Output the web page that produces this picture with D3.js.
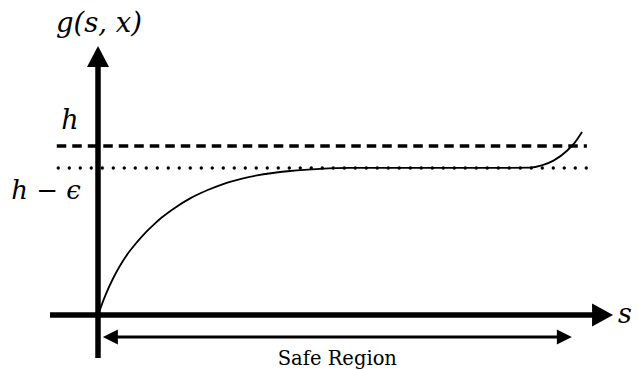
<!DOCTYPE html>
<html>
<head>
<meta charset="utf-8">
<script src="https://cdn.jsdelivr.net/npm/d3@7"></script>
<style>
  html, body { margin: 0; padding: 0; background: #fff; }
  svg { display: block; }
</style>
</head>
<body>
<svg id="chart" width="639" height="370"></svg>
<script>
// ---- data ----
const curveS = [0, 0.015, 0.030, 0.045, 0.062, 0.080, 0.097, 0.115, 0.132, 0.159, 0.190, 0.225, 0.258, 0.295, 0.328, 0.396, 0.458, 0.52, 0.65, 0.80, 0.891, 0.915, 0.940, 0.967, 0.983, 0.998];
const curveG = [0, 0.115, 0.210, 0.290, 0.365, 0.430, 0.485, 0.535, 0.578, 0.635, 0.690, 0.738, 0.775, 0.805, 0.826, 0.852, 0.865, 0.870, 0.870, 0.870, 0.872, 0.885, 0.915, 0.972, 1.020, 1.083];
const hLevel = 1.0;
const hEpsLevel = 0.87;
const xAxisExtent = [-0.099, 1.062];
const yAxisExtent = [-0.254, 1.592];
const refLineExtent = [-0.085, 1.008];
const dotLineExtent = [-0.085, 1.014];
const safeExtent = [0.010, 0.977];
const yLabel = "g(s, x)";
const xLabel = "s";
const hLabel = "h";
const hEpsLabel = "h \u2212 \u03F5";
const safeLabel = "Safe Region";

// ---- scales ----
const x = d3.scaleLinear().domain([0, 1]).range([98, 583]);
const y = d3.scaleLinear().domain([0, 1]).range([315, 146]);

const SERIF = "'DejaVu Serif', 'Liberation Serif', serif";
const svg = d3.select("#chart");

// dashed h line
svg.append("line")
  .attr("x1", x(refLineExtent[0])).attr("x2", x(refLineExtent[1]))
  .attr("y1", y(hLevel)).attr("y2", y(hLevel))
  .attr("stroke", "#000").attr("stroke-width", 3.4)
  .attr("stroke-dasharray", "9.5 6");

// dotted h-eps line
svg.append("line")
  .attr("x1", x(dotLineExtent[0]) + 1.5).attr("x2", x(dotLineExtent[1]))
  .attr("y1", y(hEpsLevel)).attr("y2", y(hEpsLevel))
  .attr("stroke", "#000").attr("stroke-width", 3.4)
  .attr("stroke-linecap", "round")
  .attr("stroke-dasharray", "0 11");

// curve
const pts = curveS.map((s, i) => [s, curveG[i]]);
svg.append("path")
  .datum(pts)
  .attr("fill", "none").attr("stroke", "#000").attr("stroke-width", 1.8)
  .attr("d", d3.line().x(d => x(d[0])).y(d => y(d[1])).curve(d3.curveMonotoneX));

// axes
const ax = svg.append("g");
ax.append("line")
  .attr("x1", x(xAxisExtent[0])).attr("x2", x(xAxisExtent[1]) - 18)
  .attr("y1", y(0)).attr("y2", y(0))
  .attr("stroke", "#000").attr("stroke-width", 5.5);
ax.append("path")
  .attr("d", `M${x(xAxisExtent[1])},${y(0)} L${x(xAxisExtent[1]) - 21},${y(0) - 11.5} L${x(xAxisExtent[1]) - 21},${y(0) + 11.5} Z`)
  .attr("fill", "#000");
ax.append("line")
  .attr("x1", x(0)).attr("x2", x(0))
  .attr("y1", y(yAxisExtent[0])).attr("y2", y(yAxisExtent[1]) + 18)
  .attr("stroke", "#000").attr("stroke-width", 5.5);
ax.append("path")
  .attr("d", `M${x(0)},${y(yAxisExtent[1])} L${x(0) - 11},${y(yAxisExtent[1]) + 21} L${x(0) + 11},${y(yAxisExtent[1]) + 21} Z`)
  .attr("fill", "#000");

// safe region double arrow
const sy = y(0) + 22;
const sx0 = x(safeExtent[0]), sx1 = x(safeExtent[1]);
svg.append("line")
  .attr("x1", sx0 + 10).attr("x2", sx1 - 10)
  .attr("y1", sy).attr("y2", sy)
  .attr("stroke", "#000").attr("stroke-width", 3.2);
svg.append("path")
  .attr("d", `M${sx0},${sy} L${sx0 + 15},${sy - 7.5} L${sx0 + 15},${sy + 7.5} Z`)
  .attr("fill", "#000");
svg.append("path")
  .attr("d", `M${sx1},${sy} L${sx1 - 15},${sy - 7.5} L${sx1 - 15},${sy + 7.5} Z`)
  .attr("fill", "#000");

// labels
function mathText(t, px, py, size, anchor) {
  return svg.append("text")
    .attr("x", px).attr("y", py).attr("text-anchor", anchor || "middle")
    .style("font-family", SERIF).style("font-style", "italic")
    .style("font-size", size + "px").text(t);
}
mathText(yLabel, 99, 32, 27.5);
mathText(hLabel, 70, 129, 27);
mathText(hEpsLabel, 46, 199, 26);
mathText(xLabel, 625, 323, 27);
svg.append("text")
  .attr("x", (sx0 + sx1) / 2).attr("y", 365).attr("text-anchor", "middle")
  .style("font-family", SERIF)
  .style("font-size", "19.5px").text(safeLabel);
</script>
</body>
</html>
